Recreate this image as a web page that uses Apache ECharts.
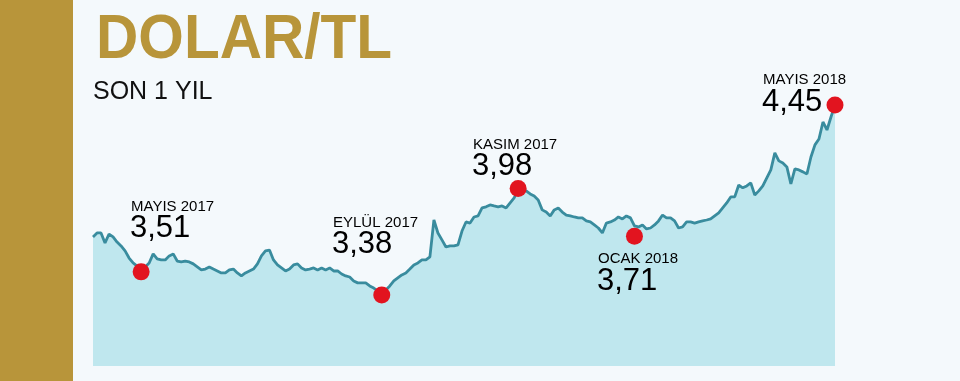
<!DOCTYPE html>
<html><head><meta charset="utf-8">
<style>html,body{margin:0;padding:0;background:#f4f9fc;}#c{width:960px;height:381px;}</style>
<script src="https://cdn.jsdelivr.net/npm/echarts@6/dist/echarts.min.js"></script>
</head><body><div id="c"></div>
<script>
// DOLAR/TL, son 1 yıl
const rates = [
3.707,3.729,3.729,3.673,3.723,3.707,3.678,3.656,3.628,3.588,
3.560,3.543,3.538,3.538,3.560,3.611,3.583,3.577,3.577,3.600,
3.611,3.571,3.566,3.571,3.566,3.555,3.538,3.521,3.526,3.538,
3.526,3.515,3.504,3.504,3.521,3.526,3.504,3.487,3.504,3.515,
3.526,3.555,3.600,3.628,3.633,3.577,3.549,3.532,3.515,3.526,
3.549,3.555,3.532,3.521,3.526,3.532,3.521,3.532,3.521,3.532,
3.515,3.515,3.498,3.487,3.481,3.459,3.448,3.448,3.448,3.431,
3.419,3.403,3.391,3.408,3.431,3.459,3.476,3.493,3.504,3.526,
3.549,3.560,3.577,3.577,3.594,3.802,3.729,3.690,3.650,3.656,
3.656,3.662,3.740,3.791,3.785,3.819,3.825,3.870,3.876,3.887,
3.881,3.876,3.881,3.870,3.898,3.926,3.971,3.971,3.966,3.949,
3.937,3.915,3.859,3.847,3.825,3.859,3.870,3.847,3.830,3.825,
3.819,3.814,3.814,3.797,3.791,3.774,3.757,3.729,3.785,3.791,
3.802,3.819,3.808,3.825,3.814,3.769,3.763,3.774,3.752,3.757,
3.774,3.797,3.830,3.814,3.814,3.797,3.757,3.763,3.791,3.791,
3.785,3.791,3.797,3.802,3.808,3.825,3.842,3.870,3.898,3.932,
3.932,3.999,3.983,3.994,4.011,3.943,3.966,3.994,4.039,4.084,
4.180,4.135,4.123,4.101,4.005,4.090,4.084,4.073,4.061,4.157,
4.225,4.258,4.354,4.309,4.382,4.450
];
const categories = rates.map((_, i) => String(i + 1));
const markerIndex = [12, 72, 106, 135, 185];
const markerValues = [3.51, 3.38, 3.98, 3.71, 4.45];
const markerMonths = ['MAYIS 2017', 'EYLÜL 2017', 'KASIM 2017', 'OCAK 2018', 'MAYIS 2018'];
const markerTexts = ['3,51', '3,38', '3,98', '3,71', '4,45'];

// label placement (style)
const labelPos = [
  {x: 131, my: 207, vy: 228.5},
  {x: 333, my: 223, vy: 244},
  {x: 473, my: 145, vy: 166},
  {x: 598, my: 258.5, vy: 281},
  {x: 763, my: 79.5, vy: 102.5}
];

const gold = '#b8953a';
const graphics = [
  {type: 'rect', shape: {x: 0, y: 0, width: 73, height: 381}, style: {fill: gold}, silent: true},
  {type: 'text', x: 96, y: 41, scaleX: 0.93, style: {text: 'DOLAR/TL', fill: gold, font: 'bold 63px "Liberation Sans"', textVerticalAlign: 'middle'}},
  {type: 'text', x: 93, y: 92.5, style: {text: 'SON 1 YIL', fill: '#111', font: '25px "Liberation Sans"', textVerticalAlign: 'middle'}}
];
labelPos.forEach((p, k) => {
  graphics.push({type: 'text', x: p.x, y: p.my, z: 10, style: {text: markerMonths[k], fill: '#000', font: '15px "Liberation Sans"', textVerticalAlign: 'middle'}});
  graphics.push({type: 'text', x: p.x - 1, y: p.vy, z: 10, style: {text: markerTexts[k], fill: '#000', font: '31px "Liberation Sans"', textVerticalAlign: 'middle'}});
});

const chart = echarts.init(document.getElementById('c'), null, {renderer: 'canvas'});
chart.setOption({
  backgroundColor: '#f4f9fc',
  animation: false,
  grid: {left: 93, right: 125, top: 90, bottom: 15},
  xAxis: {type: 'category', data: categories, boundaryGap: false, show: false},
  yAxis: {type: 'value', min: 2.98, max: 4.534, show: false},
  series: [
    {
      type: 'line', data: rates, showSymbol: false, smooth: false,
      lineStyle: {color: '#398c9e', width: 2.8},
      areaStyle: {color: '#bfe7ee', opacity: 1}
    },
    {
      type: 'scatter', symbolSize: 17, z: 5,
      itemStyle: {color: '#e2141f', opacity: 1},
      data: markerIndex.map((idx, k) => [idx, markerValues[k]])
    }
  ],
  graphic: graphics
});
</script></body></html>
